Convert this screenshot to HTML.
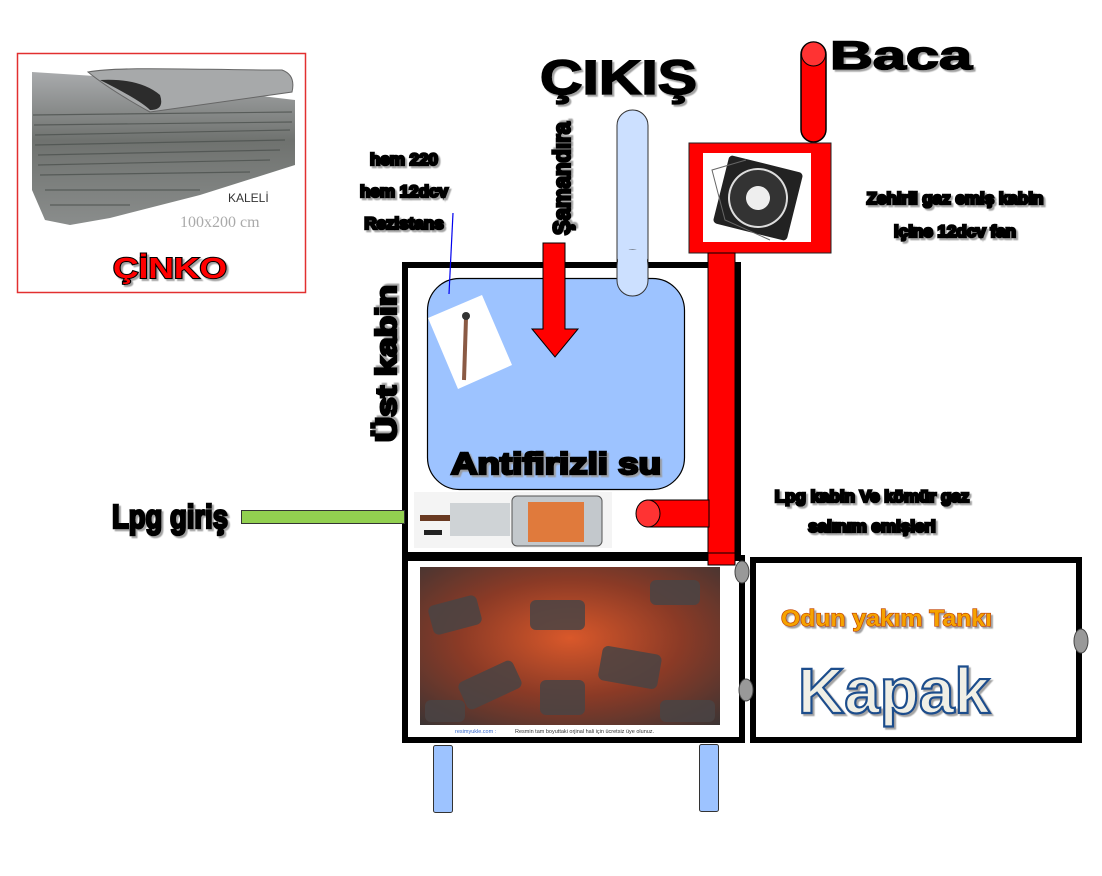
<!DOCTYPE html>
<html><head><meta charset="utf-8"><style>
html,body{margin:0;padding:0;background:#fff;width:1102px;height:876px;overflow:hidden}
svg{display:block}
.t{font-family:"Liberation Sans",sans-serif;font-weight:bold;fill:#000;stroke:#000;stroke-width:1.6px;paint-order:stroke}
.s{stroke-width:2.6px}
</style></head><body>
<svg width="1102" height="876" viewBox="0 0 1102 876" xmlns="http://www.w3.org/2000/svg">
<defs>
<filter id="sh" x="-5%" y="-5%" width="115%" height="130%"><feDropShadow dx="2" dy="2" stdDeviation="0.6" flood-color="#999" flood-opacity="0.9"/></filter>
<linearGradient id="zg" x1="0" y1="0" x2="0" y2="1"><stop offset="0" stop-color="#a9abad"/><stop offset="0.45" stop-color="#6f726f"/><stop offset="1" stop-color="#8a8d8c"/></linearGradient>
<radialGradient id="coal" cx="0.5" cy="0.45" r="0.75"><stop offset="0" stop-color="#d9582a"/><stop offset="0.5" stop-color="#8a3a26"/><stop offset="1" stop-color="#3a3434"/></radialGradient>
</defs>

<!-- Zinc box -->
<rect x="17.5" y="53.5" width="288" height="239" fill="#fff" stroke="#e23030" stroke-width="1.5"/>
<polygon points="32,72 95,76 295,100 295,165 200,195 110,218 70,225 45,220 32,190" fill="url(#zg)"/>
<g stroke="#4d524f" stroke-width="1.2" opacity="0.8">
<line x1="33" y1="115" x2="292" y2="112"/><line x1="34" y1="125" x2="292" y2="122"/><line x1="35" y1="135" x2="290" y2="130"/><line x1="35" y1="145" x2="285" y2="140"/><line x1="38" y1="155" x2="280" y2="150"/><line x1="38" y1="165" x2="270" y2="160"/><line x1="40" y1="175" x2="250" y2="172"/><line x1="45" y1="190" x2="200" y2="190"/><line x1="50" y1="205" x2="130" y2="205"/></g>
<path d="M88,72 C120,66 200,70 282,70 Q296,75 292,92 L150,112 Q110,90 88,72 Z" fill="#a7a9aa" stroke="#666" stroke-width="1"/>
<path d="M100,80 Q140,100 150,110 Q165,110 160,95 Q140,78 100,80Z" fill="#2c2c2c"/>
<text x="228" y="202" font-family="Liberation Sans,sans-serif" font-size="12" fill="#333">KALELİ</text>
<text x="180" y="227" font-family="Liberation Serif,serif" font-size="16" fill="#aaa">100x200 cm</text>
<text x="113" y="278" class="t" font-size="29" style="fill:#f00;stroke:#000;stroke-width:2px" filter="url(#sh)" textLength="114" lengthAdjust="spacingAndGlyphs">ÇİNKO</text>

<!-- Titles -->
<text x="540" y="94" class="t" font-size="48" filter="url(#sh)" textLength="157" lengthAdjust="spacingAndGlyphs">ÇIKIŞ</text>
<text x="830" y="69" class="t" font-size="40" filter="url(#sh)" textLength="142" lengthAdjust="spacingAndGlyphs">Baca</text>

<!-- Baca pipe -->
<rect x="801" y="42" width="25" height="100" rx="12.5" fill="#f00" stroke="#000" stroke-width="1.5"/>
<ellipse cx="813.5" cy="54" rx="12" ry="12" fill="#ff3333" stroke="#000" stroke-width="1"/>

<!-- Fan box -->
<rect x="689" y="143" width="142" height="110" fill="#f00" stroke="#222" stroke-width="1"/>
<rect x="703" y="153" width="108" height="89" fill="#fff"/>
<g transform="rotate(14 758 198)">
<rect x="720" y="163" width="76" height="70" rx="4" fill="#222"/>
<circle cx="758" cy="198" r="30" fill="#ddd"/>
<circle cx="758" cy="198" r="28" fill="#333"/>
<circle cx="758" cy="198" r="12" fill="#eee"/>
</g>
<path d="M746,160 L712,170 L725,220 L770,240" fill="none" stroke="#666" stroke-width="1"/>

<text class="t s" font-size="17" text-anchor="middle" filter="url(#sh)"><tspan x="955" y="204">Zehirli gaz emiş kabin</tspan><tspan x="955" y="237">içine 12dcv fan</tspan></text>

<!-- Light blue pipe -->
<rect x="617" y="110" width="31" height="186" rx="15.5" fill="#cce0ff" stroke="#333" stroke-width="1"/>

<!-- Upper cabin -->
<rect x="405" y="265" width="333" height="290" fill="none" stroke="#000" stroke-width="6"/>
<rect x="427.5" y="278.5" width="257" height="211" rx="32" fill="#9dc3ff" stroke="#000" stroke-width="1.2"/>
<rect x="617" y="250" width="31" height="46" rx="15.5" fill="#cce0ff" stroke="#333" stroke-width="1"/>
<rect x="618" y="250" width="29" height="28" fill="#cce0ff"/>

<!-- red vertical pipe -->
<rect x="708" y="253" width="27" height="312" fill="#f00" stroke="#000" stroke-width="1"/>
<!-- horizontal red pipe -->
<rect x="647" y="500" width="62" height="27" fill="#f00" stroke="#000" stroke-width="1"/>
<ellipse cx="648" cy="513.5" rx="12" ry="13.5" fill="#ff3333" stroke="#000" stroke-width="1"/>

<!-- resistor -->
<polygon points="428,318 482,295 512,365 458,389" fill="#fff"/>
<line x1="466" y1="318" x2="464" y2="380" stroke="#8a5a44" stroke-width="4"/>
<circle cx="466" cy="316" r="4" fill="#333"/>
<line x1="453" y1="213" x2="449" y2="294" stroke="#0000ee" stroke-width="1.2"/>

<!-- arrow -->
<polygon points="543,243 565,243 565,329 578,329 555,357 532,329 543,329" fill="#f00" stroke="#000" stroke-width="1"/>
<text transform="translate(570,235) rotate(-90)" class="t s" font-size="24" filter="url(#sh)" textLength="113" lengthAdjust="spacingAndGlyphs">Şamandıra</text>

<text class="t s" font-size="17" text-anchor="middle" filter="url(#sh)"><tspan x="404" y="165">hem 220</tspan><tspan x="404" y="197">hem 12dcv</tspan><tspan x="404" y="229">Rezistans</tspan></text>
<text transform="translate(396,442) rotate(-90)" class="t s" font-size="29" filter="url(#sh)" textLength="157" lengthAdjust="spacingAndGlyphs">Üst kabin</text>
<text x="451" y="474" class="t s" font-size="31" filter="url(#sh)" textLength="210" lengthAdjust="spacingAndGlyphs">Antifirizli su</text>

<!-- burner -->
<rect x="414" y="492" width="198" height="56" fill="#f4f4f4"/>
<rect x="512" y="496" width="90" height="50" rx="5" fill="#c3c8cc" stroke="#555" stroke-width="1"/>
<rect x="528" y="502" width="56" height="40" fill="#e07a3c"/>
<rect x="450" y="503" width="60" height="33" fill="#cfd3d6"/>
<rect x="420" y="515" width="30" height="6" fill="#6a3a22"/>
<rect x="424" y="530" width="18" height="5" fill="#222"/>

<!-- Lpg -->
<text x="112" y="528" class="t s" font-size="33" filter="url(#sh)" textLength="116" lengthAdjust="spacingAndGlyphs">Lpg giriş</text>
<rect x="241.5" y="510.5" width="163" height="13" fill="#92d050" stroke="#333" stroke-width="1"/>
<text class="t s" font-size="17" text-anchor="middle" filter="url(#sh)"><tspan x="872" y="502">Lpg kabin Ve kömür gaz</tspan><tspan x="872" y="532">salınım emişleri</tspan></text>

<!-- lower cabin -->
<rect x="405" y="558" width="337" height="182" fill="#fff" stroke="#000" stroke-width="6"/>
<rect x="708" y="553" width="27" height="12" fill="#f00" stroke="#000" stroke-width="1"/>
<rect x="420" y="567" width="300" height="158" fill="url(#coal)"/>
<g fill="#4a4444" opacity="0.85">
<rect x="430" y="600" width="50" height="30" rx="6" transform="rotate(-15 455 615)"/>
<rect x="530" y="600" width="55" height="30" rx="6"/>
<rect x="600" y="650" width="60" height="35" rx="6" transform="rotate(10 630 667)"/>
<rect x="460" y="670" width="60" height="30" rx="6" transform="rotate(-25 490 685)"/>
<rect x="650" y="580" width="50" height="25" rx="6"/>
<rect x="540" y="680" width="45" height="35" rx="6"/>
<rect x="425" y="700" width="40" height="22" rx="6"/>
<rect x="660" y="700" width="55" height="22" rx="6"/>
</g>
<text x="455" y="733" font-family="Liberation Sans,sans-serif" font-size="5.5" fill="#36c">resimyukle.com :</text>
<text x="515" y="733" font-family="Liberation Sans,sans-serif" font-size="5.5" fill="#333">Resmin tam boyuttaki orjinal hali için ücretsiz üye olunuz.</text>

<!-- right tank -->
<rect x="753" y="560" width="326" height="180" fill="#fff" stroke="#000" stroke-width="6"/>
<ellipse cx="742" cy="572" rx="7" ry="11" fill="#999" stroke="#444" stroke-width="1"/>
<ellipse cx="746" cy="690" rx="7" ry="11" fill="#999" stroke="#444" stroke-width="1"/>
<ellipse cx="1081" cy="641" rx="7" ry="12" fill="#999" stroke="#444" stroke-width="1"/>
<text x="781" y="626" font-family="Liberation Sans,sans-serif" font-weight="bold" font-size="23" fill="#f5a300" stroke="#c04000" stroke-width="1.3" paint-order="stroke" filter="url(#sh)" textLength="211" lengthAdjust="spacingAndGlyphs">Odun yakım Tankı</text>
<text x="798" y="713" font-family="Liberation Sans,sans-serif" font-weight="bold" font-size="64" fill="#f0efe6" stroke="#1f4e8c" stroke-width="2.2" filter="url(#sh)" textLength="192" lengthAdjust="spacingAndGlyphs">Kapak</text>

<!-- legs -->
<rect x="433.5" y="745.5" width="19" height="67" rx="2" fill="#9dc3ff" stroke="#333" stroke-width="1"/>
<rect x="699.5" y="744.5" width="19" height="67" rx="2" fill="#9dc3ff" stroke="#333" stroke-width="1"/>
</svg>
</body></html>
